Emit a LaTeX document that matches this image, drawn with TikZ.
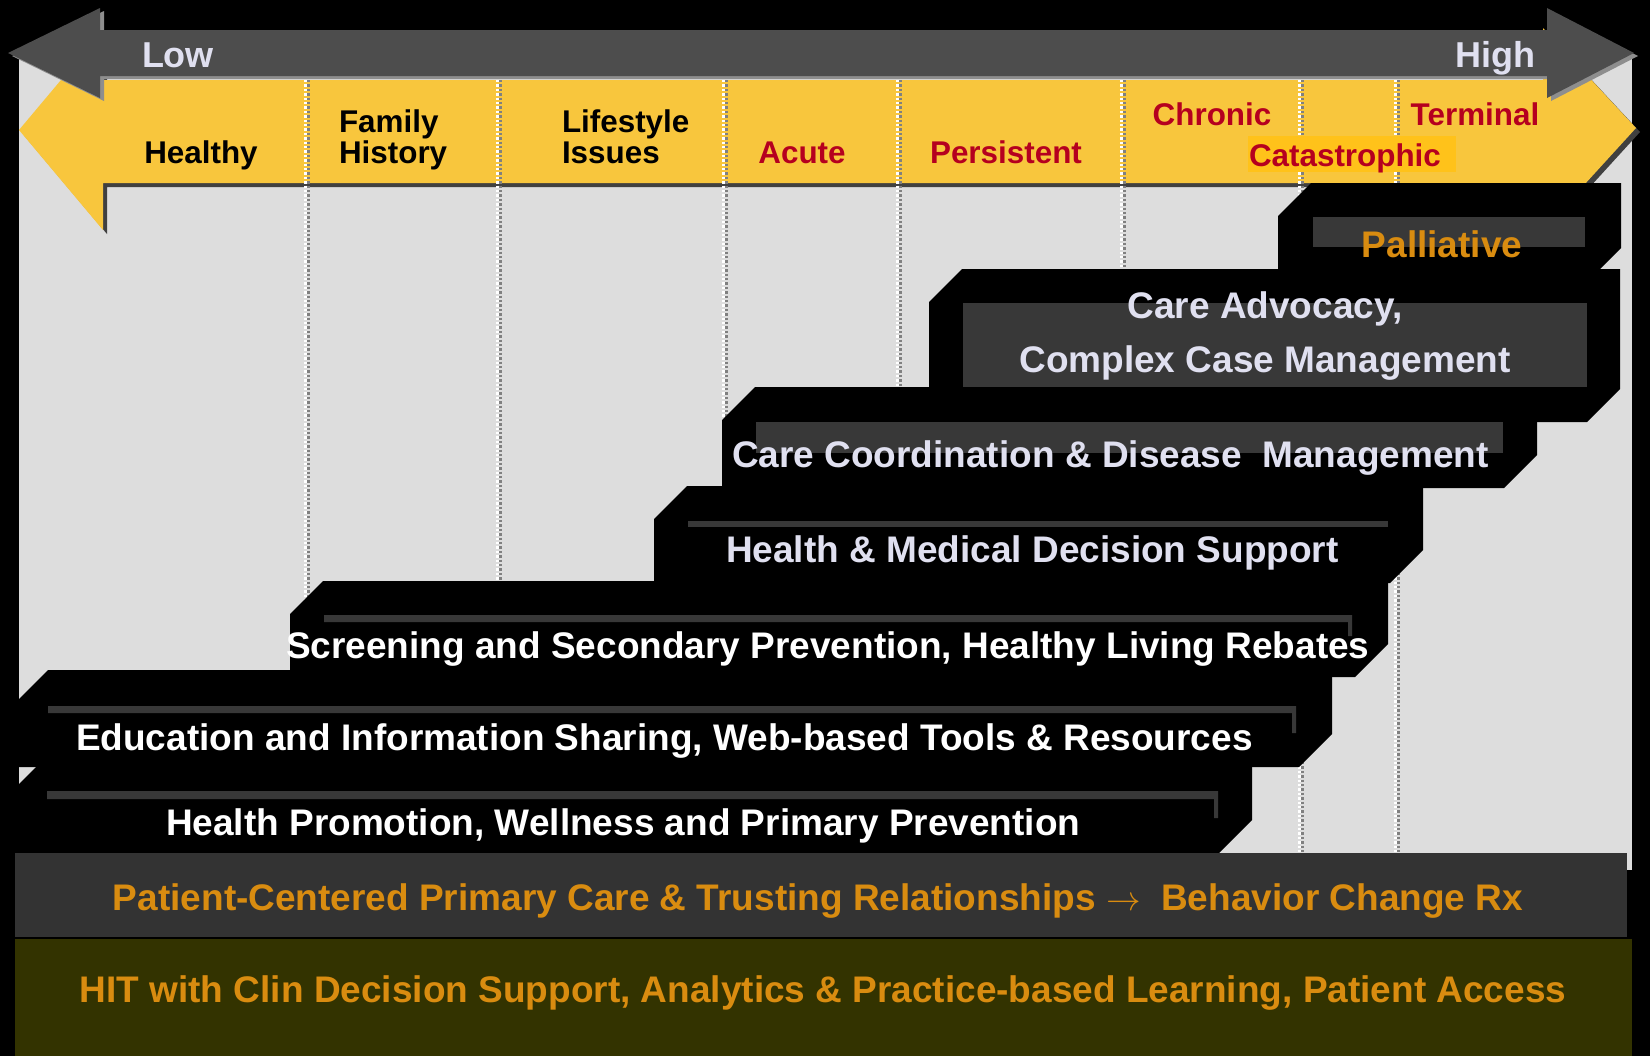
\documentclass[tikz,border=0pt]{standalone}
\usepackage{fontspec}
\setmainfont{Liberation Sans}
\definecolor{panelgray}{HTML}{DDDDDD}
\definecolor{arrowgray}{HTML}{4D4D4D}
\definecolor{arrowshade}{HTML}{8E8E8E}
\definecolor{stageyellow}{HTML}{F8C63D}
\definecolor{yellowshade}{HTML}{404040}
\definecolor{hilite}{HTML}{FFC21A}
\definecolor{riskcolor}{HTML}{B5001F}
\definecolor{lavender}{HTML}{E0E0F0}
\definecolor{careorange}{HTML}{D98C10}
\definecolor{texgray}{HTML}{383838}
\definecolor{barcharcoal}{HTML}{333333}
\definecolor{barolive}{HTML}{333300}
% black step with cut corners: left, top, right, bottom
\newcommand{\stepband}[4]{\fill[black] (#1,#2+33) -- (#1+33,#2) -- (#3,#2) -- (#3,#4-33) -- (#3-33,#4) -- (#1,#4) -- cycle;}
\begin{document}
\begin{tikzpicture}[x=0.5pt,y=-0.5pt,
    every node/.style={inner sep=0pt,outer sep=0pt},
    endlabel/.style={font=\fontsize{18}{18}\selectfont\bfseries,text=lavender},
    stage/.style={font=\fontsize{15.7}{15.5}\selectfont\bfseries,align=left},
    riskstage/.style={stage,text=riskcolor},
    bandtext/.style={font=\fontsize{18.5}{27}\selectfont\bfseries,align=center},
    bandlav/.style={bandtext,text=lavender},
    bandwhite/.style={bandtext,text=white},
    bartext/.style={font=\fontsize{18.5}{18.5}\selectfont\bfseries,text=careorange},
    texture/.style={fill=texgray},
    divwhite/.style={white,line width=1.3pt,dash pattern=on 1.2pt off 1pt},
    divgray/.style={gray,line width=1.3pt,dash pattern=on 1.2pt off 1pt}]
\useasboundingbox (0,0) rectangle (1650,1056);
\fill[black] (0,0) rectangle (1650,1056);
\fill[panelgray] (19,55) rectangle (1632,870);

% yellow stage arrow
\fill[stageyellow,preaction={fill=yellowshade,transform canvas={xshift=2pt,yshift=-2pt}}]
  (19,130) -- (103,30) -- (103,80) -- (1543,80) -- (1543,28) -- (1636,128)
  -- (1543,230) -- (1543,183) -- (103,183) -- (103,230) -- cycle;

% dividers
\foreach \xd in {307,499,725,899,1123,1301,1397}{
  \draw[divwhite] (\xd-1.5,80) -- (\xd-1.5,853);
  \draw[divgray] (\xd+1.5,80) -- (\xd+1.5,853);
}

% low - high arrow
\fill[arrowgray,preaction={fill=arrowshade,transform canvas={xshift=2pt,yshift=-1.5pt}}]
  (8,53) -- (100,8) -- (100,30) -- (1547,30) -- (1547,8) -- (1634,53)
  -- (1547,98) -- (1547,76) -- (100,76) -- (100,98) -- cycle;
\node[endlabel,anchor=base west] (low) at (142,67) {Low};
\node[endlabel,anchor=base east] (high) at (1535,67) {High};

% stages
\node[stage,anchor=base] (healthy) at (201,163) {Healthy};
\node[stage,anchor=base west] (family) at (339,163) {Family\\History};
\node[stage,anchor=base west] (lifestyle) at (562,163) {Lifestyle\\Issues};
\node[riskstage,anchor=base] (acute) at (802,163) {Acute};
\node[riskstage,anchor=base] (persistent) at (1006,163) {Persistent};
\node[riskstage,anchor=base] (chronic) at (1212,125) {Chronic};
\node[riskstage,anchor=base] (terminal) at (1475,125) {Terminal};
\fill[hilite] (1248,136) rectangle (1456,172);
\node[riskstage,anchor=base west] (catastrophic) at (1249,166) {Catastrophic};

% steps
\stepband{1278}{183}{1621}{281}
\fill[texture] (1313,217) rectangle (1585,247);
\node[bandtext,text=careorange,anchor=base] (palliative) at (1442,257) {Palliative};

\stepband{929}{269}{1620}{422}
\fill[texture] (963,303) rectangle (1587,387);
\node[bandlav,anchor=base] (advocacy) at (1265,372) {Care Advocacy,\\Complex Case Management};

\stepband{722}{387}{1537}{488}
\fill[texture] (756,422) rectangle (1503,453);
\node[bandlav,anchor=base west] (coordination) at (732,467) {Care Coordination \& Disease\ \ Management};

\stepband{654}{486}{1423}{583}
\fill[texture] (688,521) rectangle (1388,527);
\node[bandlav,anchor=base west] (decision) at (726,562) {Health \& Medical Decision Support};

\stepband{290}{581}{1388}{677}
\fill[texture] (324,615) rectangle (1352,622) (1348,615) rectangle (1352,636);
\node[bandwhite,anchor=base west] (screening) at (286,658) {Screening and Secondary Prevention, Healthy Living Rebates};

\stepband{15}{670}{1332}{767}
\fill[texture] (48,706) rectangle (1296,713) (1292,706) rectangle (1296,733);
\node[bandwhite,anchor=base west] (education) at (76,750) {Education and Information Sharing, Web-based Tools \& Resources};

\stepband{3}{767}{1252}{853}
\fill[texture] (47,791) rectangle (1218,799) (1214,791) rectangle (1218,818);
\node[bandwhite,anchor=base west] (promotion) at (166,835) {Health Promotion, Wellness and Primary Prevention};

% foundation bars
\fill[barcharcoal] (15,853) rectangle (1627,937);
\fill[barolive] (15,939) rectangle (1632,1056);
\node[bartext,anchor=base] (primary) at (818,910) {Patient-Centered Primary Care \& Trusting Relationships $\rightarrow$\ \ Behavior Change Rx};
\node[bartext,anchor=base] (hit) at (823,1002) {HIT with Clin Decision Support, Analytics \& Practice-based Learning, Patient Access};
\end{tikzpicture}
\end{document}
